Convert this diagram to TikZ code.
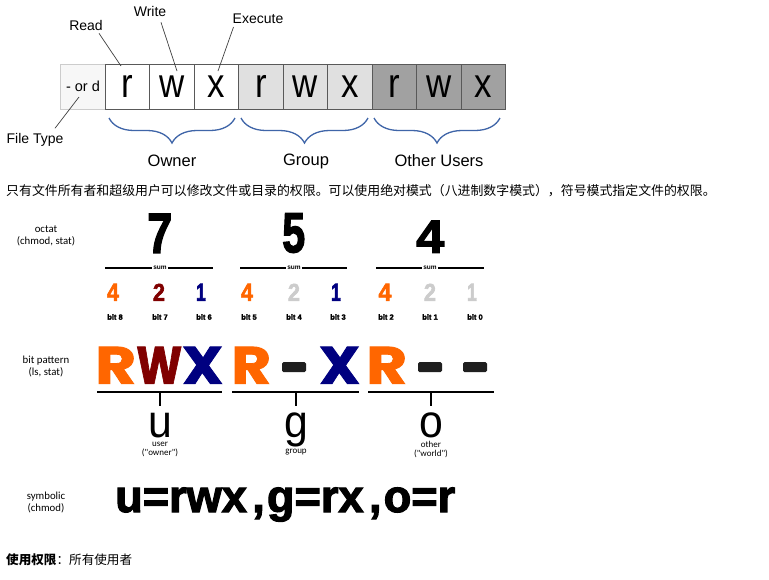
\documentclass[tikz,border=0pt]{standalone}
\usepackage{fontspec}
\setmainfont{Liberation Sans}
\newfontfamily\calib{Carlito}
\newfontfamily\cjk{Noto Sans CJK SC}
\newfontfamily\heavy{Liberation Sans}[BoldFeatures={FakeBold=2.5}]
\newfontfamily\geo{Poppins}[BoldFeatures={FakeBold=1.5}]
\usetikzlibrary{decorations.pathreplacing}
\definecolor{orng}{HTML}{FF6600}
\definecolor{dred}{HTML}{800000}
\definecolor{navyc}{HTML}{000080}
\definecolor{lgry}{HTML}{CCCCCC}
\definecolor{brblue}{HTML}{3F65A8}
\newcommand\fitbox[3]{\resizebox{#1pt}{#2pt}{#3}}
\newcommand\topl[1]{\scalebox{0.85}[1]{\fontsize{41}{41}\selectfont #1}}
\newcommand\ugoletter[1]{\scalebox{0.93}[1]{\fontsize{46}{46}\selectfont #1}}
\begin{document}
\begin{tikzpicture}[x=1pt,y=-1pt,
  cell/.style={draw=black!65, line width=0.8pt, minimum width=44.5pt, minimum height=45pt, inner sep=0pt},
  toplbl/.style={font=\fontsize{14}{14}\selectfont, inner sep=0pt},
  grplbl/.style={font=\fontsize{16.5}{16.5}\selectfont, inner sep=0pt},
  conn/.style={draw=black!75, line width=0.7pt},
  brc/.style={decorate, decoration={brace, amplitude=25pt}, draw=brblue, line width=1.3pt},
  side/.style={font=\calib\fontsize{10.8}{12}\selectfont, align=center, inner sep=0pt},
  sumlbl/.style={font=\bfseries\fontsize{6.5}{6.5}\selectfont, inner sep=1pt},
  sumline/.style={line width=1.4pt},
  bitlbl/.style={font=\heavy\bfseries\fontsize{7.5}{7.5}\selectfont, inner sep=0pt},
  sdig/.style={anchor=south, inner sep=0pt},
  bigch/.style={anchor=south west, inner sep=0pt},
  dashbox/.style={fill=black!88, rounded corners=1.5pt, minimum width=24pt, minimum height=10pt, inner sep=0pt},
  uline/.style={line width=1.4pt},
  who/.style={font=\calib\fontsize{9}{9}\selectfont, align=center, inner sep=0pt}
]
\useasboundingbox (0,0) rectangle (769,579);
\fill[white] (0,0) rectangle (769,579);

% ---- top: permission string cells
\node[cell, draw=lgry, fill=black!3] (ftc) at (83,86.5) {\fontsize{14.5}{14.5}\selectfont - or d};
\node[cell, fill=white] (u1) at (127.5,86.5) {\topl{r}};
\node[cell, fill=white] (u2) at (172,86.5) {\topl{w}};
\node[cell, fill=white] (u3) at (216.5,86.5) {\topl{x}};
\node[cell, fill=black!12] (g1) at (261,86.5) {\topl{r}};
\node[cell, fill=black!12] (g2) at (305.5,86.5) {\topl{w}};
\node[cell, fill=black!12] (g3) at (350,86.5) {\topl{x}};
\node[cell, fill=black!37] (o1) at (394.5,86.5) {\topl{r}};
\node[cell, fill=black!37] (o2) at (439,86.5) {\topl{w}};
\node[cell, fill=black!37] (o3) at (483.5,86.5) {\topl{x}};

\node[toplbl] (readl) at (86,25) {Read};
\node[toplbl] (writel) at (150,11) {Write};
\node[toplbl] (execl) at (258,19) {Execute};
\node[toplbl] (ftl) at (35,140) {File Type};
\coordinate (rt) at (121,66);
\coordinate (wt) at (177,71);
\coordinate (xt) at (218,71);
\coordinate (dt) at (79,97);
\draw[conn] ([shift={(13,3)}]readl.south) -- (rt);
\draw[conn] ([shift={(11,6)}]writel.south) -- (wt);
\draw[conn] ([shift={(1,3)}]execl.south west) -- (xt);
\draw[conn] ([shift={(20,-5)}]ftl.north) -- (dt);

\draw[brc] (235,118) -- (109,118);
\draw[brc] (368,118) -- (241,118);
\draw[brc] (500,118) -- (374,118);
\node[grplbl] (ownerl) at (172,161) {Owner};
\node[grplbl] (groupl) at (306,161) {Group};
\node[grplbl] (otherl) at (439,161) {Other Users};

% ---- Chinese intro line
\node[anchor=west, inner sep=0pt, font=\cjk\fontsize{12.9}{13}\selectfont] (intro) at (6,191) {只有文件所有者和超级用户可以修改文件或目录的权限。可以使用绝对模式（八进制数字模式），符号模式指定文件的权限。};

% ---- octat
\node[side] (octl) at (46,236) {octat\\(chmod, stat)};
\node[bigch] (d7) at (147,253) {\fitbox{25}{39}{\heavy\bfseries 7}};
\node[bigch] (d5) at (282,253) {\fitbox{23}{39}{\heavy\bfseries 5}};
\node[bigch] (d4) at (416,253) {\fitbox{28}{32}{\heavy\bfseries 4}};

\node[sumlbl] (s1) at (160,268) {sum};
\node[sumlbl] (s2) at (294,268) {sum};
\node[sumlbl] (s3) at (430,268) {sum};
\coordinate (s1a) at (105,268); \coordinate (s1b) at (213,268);
\coordinate (s2a) at (240,268); \coordinate (s2b) at (347,268);
\coordinate (s3a) at (376,268); \coordinate (s3b) at (484,268);
\draw[sumline] (s1a) -- (s1.west); \draw[sumline] (s1.east) -- (s1b);
\draw[sumline] (s2a) -- (s2.west); \draw[sumline] (s2.east) -- (s2b);
\draw[sumline] (s3a) -- (s3.west); \draw[sumline] (s3.east) -- (s3b);

\node[sdig, text=orng] (n8) at (113,301) {\fitbox{12}{17}{\heavy\bfseries 4}};
\node[sdig, text=dred] (n7) at (159,301) {\fitbox{12}{17}{\heavy\bfseries 2}};
\node[sdig, text=navyc] (n6) at (201,301) {\fitbox{10}{17}{\heavy\bfseries 1}};
\node[sdig, text=orng] (n5) at (247,301) {\fitbox{12}{17}{\heavy\bfseries 4}};
\node[sdig, text=lgry] (n4) at (294,301) {\fitbox{12}{17}{\heavy\bfseries 2}};
\node[sdig, text=navyc] (n3) at (336,301) {\fitbox{10}{17}{\heavy\bfseries 1}};
\node[sdig, text=orng] (n2) at (385,301) {\fitbox{13}{17}{\heavy\bfseries 4}};
\node[sdig, text=lgry] (n1) at (430,301) {\fitbox{12}{17}{\heavy\bfseries 2}};
\node[sdig, text=lgry] (n0) at (472,301) {\fitbox{10}{17}{\heavy\bfseries 1}};

\node[bitlbl] (b8) at (115,317) {bit 8};
\node[bitlbl] (b7) at (160,317) {bit 7};
\node[bitlbl] (b6) at (204,317) {bit 6};
\node[bitlbl] (b5) at (249,317) {bit 5};
\node[bitlbl] (b4) at (294,317) {bit 4};
\node[bitlbl] (b3) at (338,317) {bit 3};
\node[bitlbl] (b2) at (386,317) {bit 2};
\node[bitlbl] (b1) at (430,317) {bit 1};
\node[bitlbl] (b0) at (475,317) {bit 0};

% ---- bit pattern
\node[side] (bpl) at (46,366) {bit pattern\\(ls, stat)};
\node[bigch, text=orng] (pR1) at (95,384) {\fitbox{41}{37}{\geo\bfseries R}};
\node[bigch, text=dred] (pW1) at (136,384) {\fitbox{46}{37}{\geo\bfseries W}};
\node[bigch, text=navyc] (pX1) at (182,384) {\fitbox{41}{37}{\geo\bfseries X}};
\node[bigch, text=orng] (pR2) at (231,384) {\fitbox{40}{37}{\geo\bfseries R}};
\node[dashbox] (pD2) at (294,367) {};
\node[bigch, text=navyc] (pX2) at (319,384) {\fitbox{41}{37}{\geo\bfseries X}};
\node[bigch, text=orng] (pR3) at (366,384) {\fitbox{41}{37}{\geo\bfseries R}};
\node[dashbox] (pD3a) at (430,367) {};
\node[dashbox] (pD3b) at (475,367) {};

\coordinate (ua) at (97,392); \coordinate (ub) at (222,392); \coordinate (ut) at (160,392);
\coordinate (ga) at (232,392); \coordinate (gb) at (359,392); \coordinate (gt) at (296,392);
\coordinate (oa) at (368,392); \coordinate (ob) at (494,392); \coordinate (ot) at (431,392);
\draw[uline] (ua) -- (ub);
\draw[uline] (ga) -- (gb);
\draw[uline] (oa) -- (ob);

\node[anchor=base, inner sep=0pt] (lu) at (160,437) {\ugoletter{u}};
\node[anchor=base, inner sep=0pt] (lg) at (296,437) {\ugoletter{g}};
\node[anchor=base, inner sep=0pt] (lo) at (431,437) {\ugoletter{o}};
\draw[uline] (ut) -- ++(0,14);
\draw[uline] (gt) -- ++(0,14);
\draw[uline] (ot) -- ++(0,14);

\node[who] (wu) at (160,449.5) {user\\("owner")};
\node[who] (wg) at (296,452.5) {group};
\node[who] (wo) at (431,449.5) {other\\("world")};

% ---- symbolic
\node[side] (syml) at (46,502) {symbolic\\(chmod)};
\node[anchor=base west, inner sep=0pt] (symb) at (115,512) {\fitbox{340}{24.5}{\heavy\bfseries u=rwx\kern0.12em,\kern0.05em g=rx\kern0.12em,\kern0.05em o=r}};

% ---- usage line
\node[anchor=west, inner sep=0pt, font=\cjk\fontsize{12.6}{13}\selectfont] (usage) at (6,560) {\textbf{使用权限}：所有使用者};
\end{tikzpicture}
\end{document}
